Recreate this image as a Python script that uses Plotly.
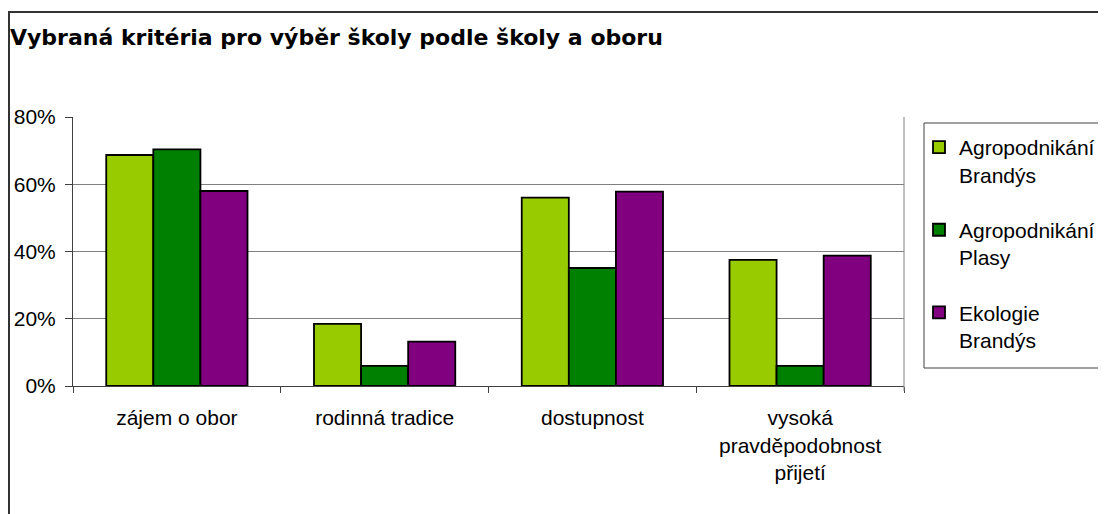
import plotly.graph_objects as go

categories = ["zájem o obor", "rodinná tradice", "dostupnost",
              "vysoká<br>pravděpodobnost<br>přijetí"]
series_names = ["Agropodnikání<br>Brandýs", "Agropodnikání<br>Plasy", "Ekologie<br>Brandýs"]
agro_brandys = [0.687, 0.185, 0.560, 0.375]
agro_plasy = [0.704, 0.060, 0.351, 0.060]
ekologie_brandys = [0.580, 0.132, 0.578, 0.388]
colors = ["#99CC00", "#008000", "#800080"]
y_ticks = [0, 0.2, 0.4, 0.6, 0.8]
title_text = "Vybraná kritéria pro výběr školy podle školy a oboru"

FONT = "Arial, 'Liberation Sans', sans-serif"

fig = go.Figure()
for i, (name, vals) in enumerate(zip(series_names, [agro_brandys, agro_plasy, ekologie_brandys])):
    fig.add_trace(go.Bar(
        x=categories, y=vals, name=name,
        marker=dict(color=colors[i], line=dict(color="black", width=1.8)),
        legendgroup=f"g{i}",
    ))

OFF = 8  # page body margin
W, H = 1106, 514
# reference screenshot pixel positions of the plot area
L, R, T, B = 73, 904, 117, 386

def px_x(p):
    return (p - L) / (R - L)

def px_y(p):
    return (B - p) / (B - T)

fig.update_layout(
    width=W, height=H,
    margin=dict(l=L - OFF, r=W - (R - OFF), t=T - OFF, b=H - (B - OFF), autoexpand=False),
    paper_bgcolor="white", plot_bgcolor="white",
    font=dict(family=FONT, size=21, color="black"),
    barmode="group", bargap=0.32, bargroupgap=0,
    title=dict(text=title_text, x=(10 - OFF) / W, xanchor="left",
               y=1 - (37 - OFF) / H, yanchor="middle",
               font=dict(family="'DejaVu Sans', sans-serif", size=22, color="black", weight="bold")),
    showlegend=True,
    legend=dict(x=px_x(919), y=px_y(127), xanchor="left", yanchor="top",
                borderwidth=0, bgcolor="rgba(0,0,0,0)",
                font=dict(family=FONT, size=21), valign="top",
                tracegroupgap=25, traceorder="grouped",
                itemclick=False),
    yaxis=dict(range=[0, 0.8], tickvals=y_ticks, tickformat=".0%",
               showgrid=True, gridcolor="#808080", gridwidth=1,
               showline=True, linecolor="#404040", linewidth=1,
               ticks="outside", ticklen=7, tickcolor="#404040",
               ticklabelstandoff=5,
               zeroline=False, fixedrange=True),
    xaxis=dict(type="category", showline=True, linecolor="#404040", linewidth=1,
               ticks="outside", ticklen=6, tickcolor="#404040",
               tickson="boundaries", showgrid=False, fixedrange=True,
               ticklabelstandoff=13),
    shapes=[
        dict(type="line", xref="paper", yref="paper", x0=1, x1=1, y0=px_y(391), y1=1,
             line=dict(color="#808080", width=1)),
        dict(type="rect", xref="paper", yref="paper",
             x0=px_x(924), x1=px_x(1125), y0=px_y(368), y1=px_y(123),
             line=dict(color="#404040", width=1), fillcolor="white", layer="below"),
        dict(type="rect", xref="paper", yref="paper",
             x0=px_x(9), x1=px_x(1130), y0=px_y(540), y1=px_y(12),
             line=dict(color="#333333", width=2), fillcolor="rgba(0,0,0,0)", layer="below"),
    ],
)

fig.write_html("out.html")
